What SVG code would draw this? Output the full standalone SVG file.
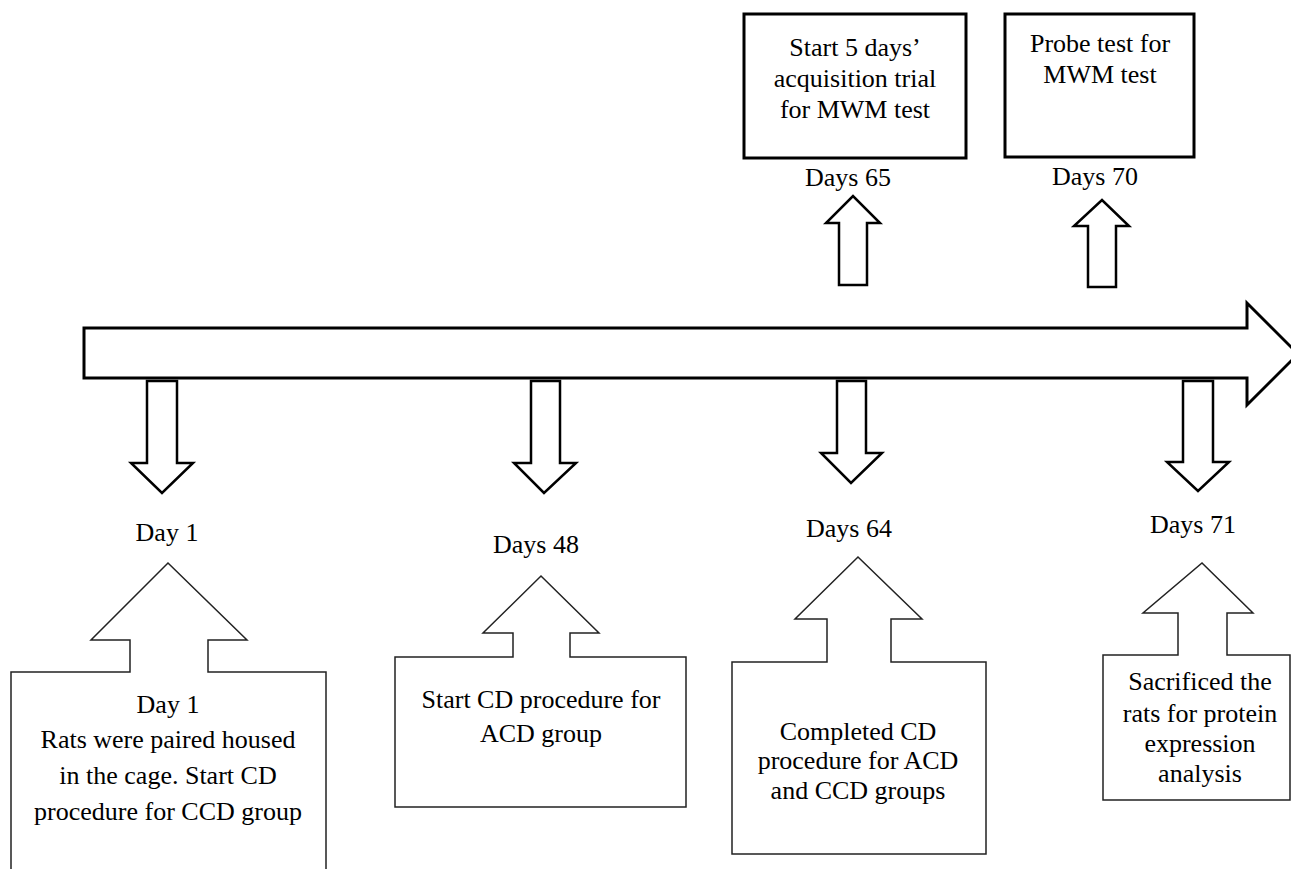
<svg xmlns="http://www.w3.org/2000/svg" width="1291" height="869" viewBox="0 0 1291 869">
<style>
.thick{fill:#fff;stroke:#000;stroke-width:3;stroke-linejoin:miter}
.arw{fill:#fff;stroke:#000;stroke-width:2.5;stroke-linejoin:miter}
.thin{fill:#fff;stroke:#222;stroke-width:1.5;stroke-linejoin:miter}
.t{font-family:"Liberation Serif","Times New Roman",Tinos,"Nimbus Roman","Nimbus Roman No9 L",FreeSerif,"Noto Serif","DejaVu Serif","Noto Serif CJK SC",Times,serif;font-size:26px;fill:#000;text-anchor:middle}
</style>
<rect width="1291" height="869" fill="#fff"/>
<g id="connectors">
  <path id="timeline" class="thick" d="M84,328 H1247 V303 L1298,354 L1247,405 V378 H84 Z"/>
  <path id="down-day1" class="arw" d="M147,381 H177 V463 H193 L162,493 L131,463 H147 Z"/>
  <path id="down-day48" class="arw" d="M531,381 H560 V463 H576 L544,493 L514,463 H531 Z"/>
  <path id="down-day64" class="arw" d="M837,381 H866 V453 H882 L851,483 L821,453 H837 Z"/>
  <path id="down-day71" class="arw" d="M1183,381 H1213 V462 H1229 L1198,491 L1167,462 H1183 Z"/>
  <path id="up-day65" class="arw" d="M839,285 V223 H826 L853,196 L880,223 H867 V285 Z"/>
  <path id="up-day70" class="arw" d="M1088,287 V226 H1074 L1102,200 L1129,226 H1116 V287 Z"/>
</g>
<g id="node-top-65">
  <rect class="thick" x="744" y="14" width="222" height="144"/>
  <text class="t" x="855" y="56">Start 5 days’</text>
  <text class="t" x="855" y="87">acquisition trial</text>
  <text class="t" x="855" y="118">for MWM test</text>
  <text class="t" x="848" y="186">Days 65</text>
</g>
<g id="node-top-70">
  <rect class="thick" x="1005" y="14" width="189" height="143"/>
  <text class="t" x="1100" y="52">Probe test for</text>
  <text class="t" x="1100" y="83">MWM test</text>
  <text class="t" x="1095" y="185">Days 70</text>
</g>
<g id="label-day1"><text class="t" x="167" y="541">Day 1</text></g>
<g id="label-day48"><text class="t" x="536" y="553">Days 48</text></g>
<g id="label-day64"><text class="t" x="849" y="537">Days 64</text></g>
<g id="label-day71"><text class="t" x="1193" y="533">Days 71</text></g>
<g id="node-day1">
  <path class="thin" d="M11,874 V672 H130 V640 H91 L168,563 L247,640 H208 V672 H326 V874"/>
  <text class="t" x="168" y="713">Day 1</text>
  <text class="t" x="168" y="748">Rats were paired housed</text>
  <text class="t" x="168" y="784">in the cage. Start CD</text>
  <text class="t" x="168" y="820">procedure for CCD group</text>
</g>
<g id="node-day48">
  <path class="thin" d="M395,807 V657 H513 V633 H483 L541,576 L599,633 H570 V657 H686 V807 Z"/>
  <text class="t" x="541" y="708">Start CD procedure for</text>
  <text class="t" x="541" y="742">ACD group</text>
</g>
<g id="node-day64">
  <path class="thin" d="M732,854 V662 H827 V619 H795 L858,557 L922,619 H891 V662 H986 V854 Z"/>
  <text class="t" x="858" y="740">Completed CD</text>
  <text class="t" x="858" y="769">procedure for ACD</text>
  <text class="t" x="858" y="799">and CCD groups</text>
</g>
<g id="node-day71">
  <path class="thin" d="M1103,800 V655 H1178 V613 H1143 L1202,563 L1253,613 H1227 V655 H1290 V800 Z"/>
  <text class="t" x="1200" y="690">Sacrificed the</text>
  <text class="t" x="1200" y="722">rats for protein</text>
  <text class="t" x="1200" y="752">expression</text>
  <text class="t" x="1200" y="782">analysis</text>
</g>
</svg>
